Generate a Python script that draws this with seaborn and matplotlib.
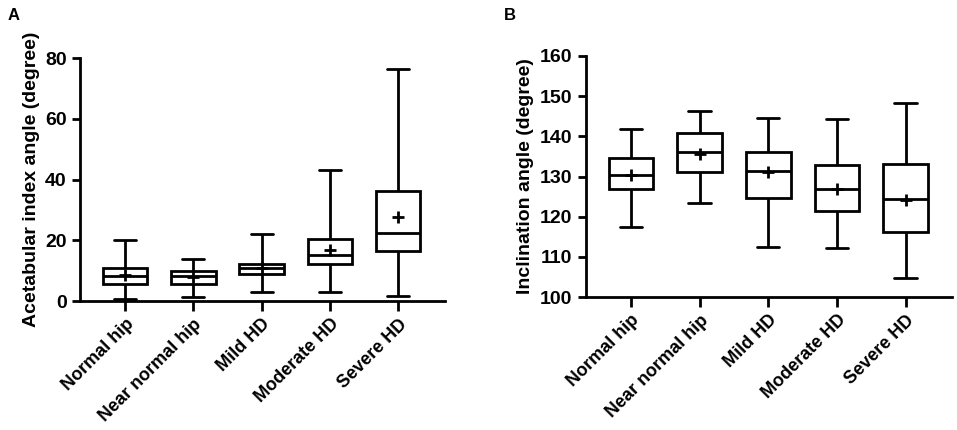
import numpy as np
import pandas as pd
import matplotlib
matplotlib.use("Agg")
import matplotlib.pyplot as plt
import seaborn as sns

sns.set_style("ticks")
plt.rcParams["font.family"] = ["Liberation Sans", "DejaVu Sans"]
plt.rcParams["font.weight"] = "bold"
plt.rcParams["axes.labelweight"] = "bold"
for key in ("text.color", "axes.labelcolor", "xtick.color", "ytick.color", "axes.edgecolor"):
    plt.rcParams[key] = "black"

groups = ["Normal hip", "Near normal hip", "Mild HD", "Moderate HD", "Severe HD"]

# Panel A: acetabular index angle (min, Q1, median, Q3, max, mean)
ai_min = [0.7, 1.2, 2.9, 2.8, 1.5]
ai_q1 = [5.7, 5.5, 9.0, 12.2, 16.3]
ai_med = [8.3, 8.1, 10.9, 15.0, 22.4]
ai_q3 = [10.9, 10.0, 12.3, 20.4, 36.1]
ai_max = [20.0, 13.8, 21.9, 43.2, 76.5]
ai_mean = [8.5, 7.8, 11.0, 16.7, 27.7]

# Panel B: inclination angle
inc_min = [117.4, 123.4, 112.5, 112.3, 104.7]
inc_q1 = [126.8, 131.0, 124.7, 121.4, 116.2]
inc_med = [130.4, 136.0, 131.4, 126.9, 124.4]
inc_q3 = [134.7, 140.9, 136.0, 132.8, 133.1]
inc_max = [141.9, 146.3, 144.5, 144.3, 148.2]
inc_mean = [130.5, 135.7, 131.0, 127.0, 124.2]


def five_number_frame(mins, q1s, meds, q3s, maxs):
    # five points per group reproduce the quartiles exactly
    rows = []
    for g, a, b, c, d, e in zip(groups, mins, q1s, meds, q3s, maxs):
        for v in (a, b, c, d, e):
            rows.append({"group": g, "value": v})
    return pd.DataFrame(rows)


def draw_panel(ax, df, means, yticks, ylabel):
    sns.boxplot(data=df, x="group", y="value", order=groups, whis=(0, 100),
                width=0.65, color="white", linecolor="black", linewidth=2,
                showfliers=False, ax=ax)
    sns.pointplot(x=groups, y=means, order=groups, linestyle="none", markers="+",
                  color="black", errorbar=None, markersize=9, markeredgewidth=2,
                  ax=ax)
    ax.set_ylim(yticks[0], yticks[-1])
    ax.set_yticks(yticks)
    ax.set_xlim(-0.66, 4.68)
    ax.set_xlabel("")
    ax.set_ylabel(ylabel, fontsize=14, fontweight="bold")
    ax.set_xticks(range(len(groups)))
    ax.set_xticklabels(groups, rotation=45, ha="right", rotation_mode="anchor",
                       fontsize=13, fontweight="bold")
    ax.tick_params(axis="y", labelsize=14, width=2, length=6)
    ax.tick_params(axis="x", width=2, length=7)
    for lab in ax.get_yticklabels():
        lab.set_fontweight("bold")
    sns.despine(ax=ax)
    for s in ("left", "bottom"):
        ax.spines[s].set_linewidth(2)


fig = plt.figure(figsize=(9.57, 4.30), dpi=100)
ax1 = fig.add_axes([0.0836, 0.30, 0.381, 0.565])
ax2 = fig.add_axes([0.612, 0.309, 0.383, 0.561])

draw_panel(ax1, five_number_frame(ai_min, ai_q1, ai_med, ai_q3, ai_max), ai_mean,
           [0, 20, 40, 60, 80], "Acetabular index angle (degree)")
draw_panel(ax2, five_number_frame(inc_min, inc_q1, inc_med, inc_q3, inc_max), inc_mean,
           [100, 110, 120, 130, 140, 150, 160], "Inclination angle (degree)")

fig.text(0.008, 0.965, "A", fontsize=12, fontweight="bold", va="center")
fig.text(0.527, 0.965, "B", fontsize=12, fontweight="bold", va="center")

fig.savefig("out.png", dpi=100)
